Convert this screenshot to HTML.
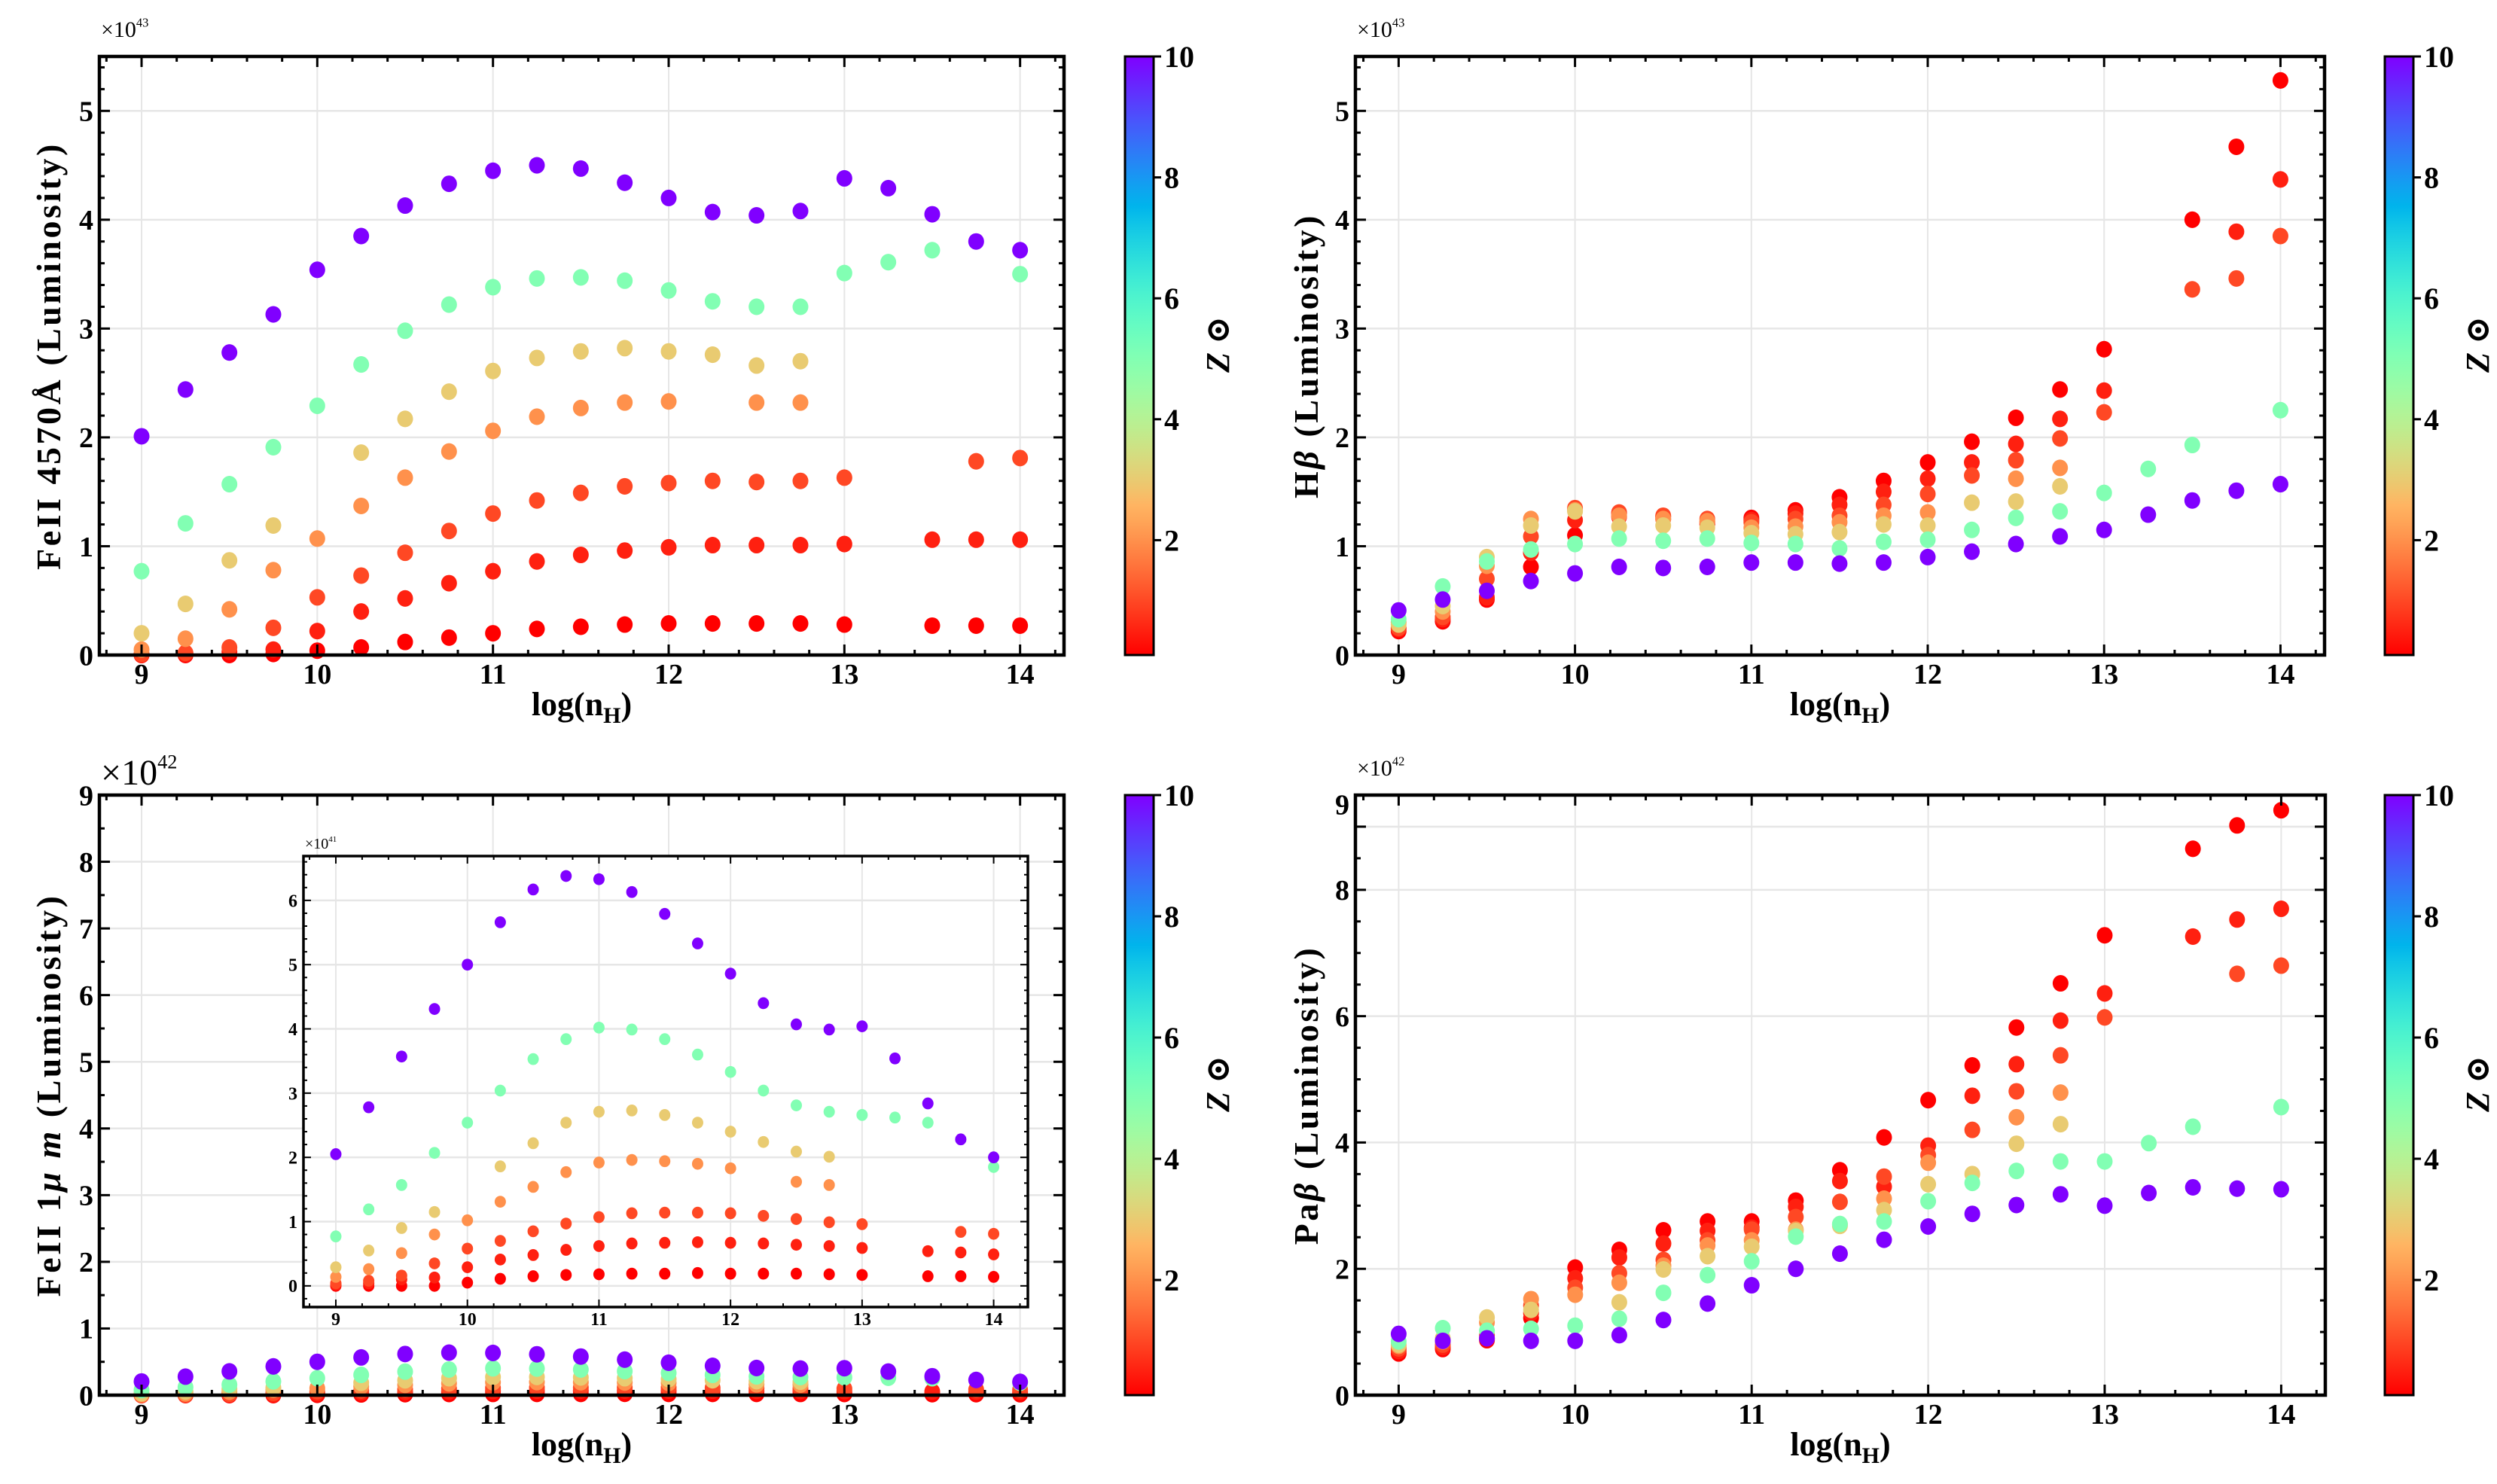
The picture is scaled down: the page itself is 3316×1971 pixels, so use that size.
<!DOCTYPE html>
<html><head><meta charset="utf-8"><style>
html,body{margin:0;padding:0;background:#fff;}
svg{display:block;font-family:"Liberation Serif","DejaVu Serif",serif;}
</style></head><body>
<svg id="fig" xmlns="http://www.w3.org/2000/svg" width="3316" height="1971" viewBox="0 0 3316 1971"></svg>
<script>
// x positions: log(n_H)
const nH = [9,9.25,9.5,9.75,10,10.25,10.5,10.75,11,11.25,11.5,11.75,12,12.25,12.5,12.75,13,13.25,13.5,13.75,14];
const zValues = [0.1,0.5,1,2,3,5,10];
// FeII 4570 (x1e43), order matches zValues
const fe4570_z01 = [0,0,0,0.01,0.04,0.07,0.12,0.16,0.20,0.24,0.26,0.28,0.29,0.29,0.29,0.29,0.28,null,0.27,0.27,0.27];
const fe4570_z05 = [0.0,0.01,0.03,0.05,0.22,0.40,0.52,0.66,0.77,0.86,0.92,0.96,0.99,1.01,1.01,1.01,1.02,null,1.06,1.06,1.06];
const fe4570_z1 = [0.01,0.02,0.07,0.25,0.53,0.73,0.94,1.14,1.30,1.42,1.49,1.55,1.58,1.60,1.59,1.60,1.63,null,null,1.78,1.81];
const fe4570_z2 = [0.05,0.15,0.42,0.78,1.07,1.37,1.63,1.87,2.06,2.19,2.27,2.32,2.33,null,2.32,2.32,null,null,null,null,null];
const fe4570_z3 = [0.20,0.47,0.87,1.19,null,1.86,2.17,2.42,2.61,2.73,2.79,2.82,2.79,2.76,2.66,2.70,null,null,null,null,null];
const fe4570_z5 = [0.77,1.21,1.57,1.91,2.29,2.67,2.98,3.22,3.38,3.46,3.47,3.44,3.35,3.25,3.20,3.20,3.51,3.61,3.72,null,3.50];
const fe4570_z10 = [2.01,2.44,2.78,3.13,3.54,3.85,4.13,4.33,4.45,4.50,4.47,4.34,4.20,4.07,4.04,4.08,4.38,4.29,4.05,3.80,3.72];
// Hbeta (x1e43)
const hb_z01 = [0.22,0.31,0.51,0.81,1.10,1.27,1.25,1.20,1.26,1.33,1.45,1.60,1.77,1.96,2.18,2.44,2.81,null,4.00,4.67,5.28];
const hb_z05 = [0.24,0.33,0.53,0.94,1.24,1.30,1.27,1.22,1.24,1.30,1.38,1.50,1.62,1.77,1.94,2.17,2.43,null,null,3.89,4.37];
const hb_z1 = [0.25,0.35,0.70,1.09,1.35,1.31,1.28,1.25,1.22,1.25,1.28,1.38,1.48,1.65,1.79,1.99,2.23,null,3.36,3.46,3.85];
const hb_z2 = [0.30,0.40,0.82,1.25,1.33,1.28,1.25,1.23,1.17,1.18,1.22,1.28,1.31,null,1.62,1.72,null,null,null,null,null];
const hb_z3 = [0.28,0.45,0.90,1.19,1.32,1.18,1.19,1.17,1.12,1.11,1.13,1.20,1.19,1.40,1.41,1.55,null,null,null,null,null];
const hb_z5 = [0.33,0.63,0.86,0.97,1.02,1.07,1.05,1.07,1.03,1.02,0.98,1.04,1.06,1.15,1.26,1.32,1.49,1.71,1.93,null,2.25];
const hb_z10 = [0.41,0.51,0.59,0.68,0.75,0.81,0.80,0.81,0.85,0.85,0.84,0.85,0.90,0.95,1.02,1.09,1.15,1.29,1.42,1.51,1.57];
// FeII 1um (x1e41, inset units)
const fe1um_z01 = [0,0,0,0,0.05,0.11,0.15,0.17,0.18,0.19,0.19,0.20,0.19,0.19,0.19,0.18,0.17,null,0.15,0.15,0.14];
const fe1um_z05 = [0.02,0.04,0.10,0.13,0.29,0.41,0.48,0.56,0.62,0.66,0.67,0.68,0.67,0.66,0.64,0.62,0.59,null,0.54,0.52,0.49];
const fe1um_z1 = [0.04,0.08,0.16,0.35,0.58,0.70,0.85,0.97,1.07,1.13,1.14,1.14,1.13,1.09,1.04,0.99,0.96,null,null,0.84,0.81];
const fe1um_z2 = [0.14,0.26,0.51,0.80,1.02,1.31,1.54,1.77,1.92,1.96,1.94,1.90,1.83,null,1.62,1.57,null,null,null,null,null];
const fe1um_z3 = [0.29,0.55,0.90,1.15,null,1.86,2.22,2.54,2.71,2.73,2.66,2.54,2.40,2.24,2.09,2.01,null,null,null,null,null];
const fe1um_z5 = [0.77,1.19,1.57,2.07,2.54,3.04,3.53,3.84,4.02,3.99,3.84,3.60,3.33,3.04,2.81,2.71,2.66,2.62,2.54,null,1.85];
const fe1um_z10 = [2.05,2.78,3.57,4.31,5.00,5.66,6.17,6.38,6.33,6.13,5.79,5.33,4.86,4.40,4.07,3.99,4.04,3.54,2.84,2.28,2.00];
// Pabeta (x1e42)
const pb_z01 = [0.66,0.73,0.87,1.22,2.02,2.30,2.61,2.75,2.75,3.08,3.56,4.08,4.67,5.22,5.82,6.52,7.28,null,8.65,9.02,9.26];
const pb_z05 = [0.70,0.76,0.90,1.30,1.85,2.18,2.40,2.60,2.65,2.98,3.39,3.30,3.95,4.74,5.24,5.93,6.36,null,7.26,7.53,7.70];
const pb_z1 = [0.74,0.80,0.95,1.42,1.70,1.93,2.14,2.45,2.62,2.82,3.06,3.46,3.80,4.20,4.81,5.38,5.98,null,null,6.67,6.80];
const pb_z2 = [0.78,0.85,1.15,1.52,1.59,1.78,2.05,2.37,2.45,2.62,2.70,3.11,3.68,null,4.40,4.79,null,null,null,null,null];
const pb_z3 = [0.80,0.90,1.23,1.35,null,1.47,1.99,2.20,2.35,2.60,2.68,2.93,3.34,3.50,3.98,4.29,null,null,null,null,null];
const pb_z5 = [0.85,1.06,1.02,1.05,1.10,1.21,1.62,1.90,2.12,2.51,2.71,2.75,3.07,3.36,3.55,3.70,3.70,3.99,4.25,null,4.56];
const pb_z10 = [0.97,0.86,0.90,0.86,0.86,0.95,1.19,1.45,1.74,2.00,2.24,2.46,2.67,2.87,3.01,3.18,3.00,3.20,3.29,3.27,3.26];
const xTicks = [9,10,11,12,13,14];
const cbTicks = [2,4,6,8,10];

const NS = "http://www.w3.org/2000/svg";
const svg = document.getElementById('fig');
function el(tag, attrs, parent){ const e=document.createElementNS(NS,tag); for(const k in attrs) e.setAttribute(k,attrs[k]); (parent||svg).appendChild(e); return e; }
function rainbowR(z){ let t=1-(z-0.1)/9.9; t=Math.max(0,Math.min(1,t));
  const r=Math.min(1,Math.abs(2*t-0.5)), g=Math.sin(Math.PI*t), b=Math.cos(Math.PI*t/2);
  return `rgb(${Math.round(r*255)},${Math.round(g*255)},${Math.round(b*255)})`; }

function axes(c){
  const g = el('g',{});
  
  
  const sx = v => c.L + (v - c.xlim[0])/(c.xlim[1]-c.xlim[0])*(c.R-c.L);
  const sy = v => c.B - (v - c.ylim[0])/(c.ylim[1]-c.ylim[0])*(c.B-c.T);
  el('rect',{x:c.L,y:c.T,width:c.R-c.L,height:c.B-c.T,fill:'#fff'},g);
  xTicks.forEach(v=>el('line',{x1:sx(v),x2:sx(v),y1:c.T,y2:c.B,stroke:'#e6e6e6','stroke-width':2},g));
  c.yticks.forEach(v=>{ if(v>c.ylim[0]&&v<c.ylim[1]) el('line',{x1:c.L,x2:c.R,y1:sy(v),y2:sy(v),stroke:'#e6e6e6','stroke-width':2.5},g);});
  c.series.forEach((arr,si)=>{
    const col = rainbowR(zValues[si]);
    arr.forEach((v,i)=>{ if(v===null) return;
      const p = el('ellipse',{cx:sx(nH[i]),cy:sy(v),rx:c.r,ry:c.r*1.05,fill:col},g);
      
      
    });
  });
  const tl=c.tick, tm=c.tick/2, sw=c.sw;
  for(let v=Math.ceil(c.xlim[0]*5)/5; v<=c.xlim[1]+1e-9; v+=0.2){
    const major = Math.abs(v-Math.round(v))<1e-6; const L= major?tl:tm; const x=sx(v);
    el('line',{x1:x,x2:x,y1:c.B,y2:c.B-L,stroke:'#000','stroke-width':sw},g);
    el('line',{x1:x,x2:x,y1:c.T,y2:c.T+L,stroke:'#000','stroke-width':sw},g);
  }
  for(let v=Math.ceil(c.ylim[0]/c.ymin)*c.ymin; v<=c.ylim[1]+1e-9; v+=c.ymin){
    const major = c.yticks.some(t=>Math.abs(t-v)<1e-6); const L= major?tl:tm; const y=sy(v);
    el('line',{x1:c.L,x2:c.L+L,y1:y,y2:y,stroke:'#000','stroke-width':sw},g);
    el('line',{x1:c.R,x2:c.R-L,y1:y,y2:y,stroke:'#000','stroke-width':sw},g);
  }
  el('rect',{x:c.L,y:c.T,width:c.R-c.L,height:c.B-c.T,fill:'none',stroke:'#000','stroke-width':c.frame},g);
  xTicks.forEach(v=>{ const t=el('text',{x:sx(v),y:c.B+c.fs*1.0,'font-size':c.fs,'font-weight':'bold','text-anchor':'middle'},g); t.textContent=v;
      });
  c.yticks.forEach(v=>{ const yy = (c.fakeTop && v===c.fakeTop) ? c.T+12 : sy(v);
    const t=el('text',{x:c.L-8,y:yy+c.fs*0.35,'font-size':c.fs,'font-weight':'bold','text-anchor':'end'},g); t.textContent=v;
      });
  const ex=el('text',{x:c.L+2,y:c.T-c.expGap,'font-size':c.expFs},g);
   
  ex.innerHTML = '×10<tspan dy="'+(-c.expFs*0.45)+'" font-size="'+(c.expFs*0.55)+'">'+c.exp+'</tspan>';
  return g;
}
function panelLabels(c){
  if(c.ylabel){ const t=el('text',{x:0,y:0,'font-size':46,'font-weight':'bold','letter-spacing':3.5,'text-anchor':'middle',transform:`translate(${c.ylx},${(c.T+c.B)/2}) rotate(-90)`}); t.innerHTML=c.ylabel;
      }
  const xl=el('text',{x:(c.L+c.R)/2,y:c.B+80,'font-size':44,'font-weight':'bold','text-anchor':'middle'});
  xl.innerHTML='log(n<tspan dy="10" font-size="30">H</tspan><tspan dy="-10">)</tspan>';
   
  const cg=el('g',{});  
  const gid='grad'+Math.round(c.cbx);
  const lg=el('linearGradient',{id:gid,x1:0,y1:1,x2:0,y2:0},el('defs',{},cg));
  for(let i=0;i<=40;i++){ const z=0.1+9.9*i/40; el('stop',{offset:(i/40),'stop-color':rainbowR(z)},lg); }
  el('rect',{x:c.cbx,y:c.T,width:38,height:c.B-c.T,fill:`url(#${gid})`,stroke:'#000','stroke-width':3},cg);
  cbTicks.forEach(v=>{ const y=c.B-(v-0.1)/9.9*(c.B-c.T);
    el('line',{x1:c.cbx+38,x2:c.cbx+48,y1:y,y2:y,stroke:'#000','stroke-width':3},cg);
    const t=el('text',{x:c.cbx+52,y:y+14,'font-size':40,'font-weight':'bold'},cg); t.textContent=v; });
  const zl=el('text',{x:0,y:0,'font-size':44,'font-weight':'bold','font-style':'italic','text-anchor':'middle',transform:`translate(${c.cbx+138},${(c.T+c.B)/2-15}) rotate(-90)`},cg);
  zl.textContent='Z ⊙';
}

const common={xlim:[8.76,14.25],tick:14,sw:3,frame:4.5,fs:38,r:10.5};
const P1=Object.assign({},common,{name:'feii-4570-panel',L:132,R:1413,T:75,B:870,ylim:[0,5.5],yticks:[0,1,2,3,4,5],ymin:0.2,exp:'43',expFs:30,expGap:26,
  series:[fe4570_z01,fe4570_z05,fe4570_z1,fe4570_z2,fe4570_z3,fe4570_z5,fe4570_z10],ylabel:'FeII 4570Å (Luminosity)',ylx:80,cbx:1494});
const P2=Object.assign({},common,{name:'hbeta-panel',L:1800,R:3087,T:75,B:870,xlim:[8.755,14.25],ylim:[0,5.5],yticks:[0,1,2,3,4,5],ymin:0.2,exp:'43',expFs:30,expGap:26,
  series:[hb_z01,hb_z05,hb_z1,hb_z2,hb_z3,hb_z5,hb_z10],ylabel:'H<tspan font-style="italic">β</tspan> (Luminosity)',ylx:1750,cbx:3167});
const fe1umMain=[fe1um_z01,fe1um_z05,fe1um_z1,fe1um_z2,fe1um_z3,fe1um_z5,fe1um_z10].map(a=>a.map(v=>v===null?null:v/10)); // 1e41 -> 1e42 units
const P3=Object.assign({},common,{name:'feii-1um-panel',L:132,R:1413,T:1056,B:1853,ylim:[0,9],yticks:[0,1,2,3,4,5,6,7,8,9],ymin:0.5,exp:'42',expFs:48,expGap:14,
  series:fe1umMain,ylabel:'FeII 1<tspan font-style="italic">μ m</tspan> (Luminosity)',ylx:80,cbx:1494});
const P4=Object.assign({},common,{name:'inset-feii-1um',L:403,R:1365,T:1137,B:1736,xlim:[8.754,14.26],ylim:[-0.33,6.69],yticks:[0,1,2,3,4,5,6],ymin:0.2,exp:'41',expFs:20,expGap:10,
  series:[fe1um_z01,fe1um_z05,fe1um_z1,fe1um_z2,fe1um_z3,fe1um_z5,fe1um_z10],r:7.5,fs:24,tick:10,sw:2,frame:3.5});
const P5=Object.assign({},common,{name:'pabeta-panel',L:1800,R:3088,T:1056,B:1853,xlim:[8.755,14.25],ylim:[0,9.5],yticks:[0,2,4,6,8,9],ymin:0.5,fakeTop:9,exp:'42',expFs:30,expGap:26,
  series:[pb_z01,pb_z05,pb_z1,pb_z2,pb_z3,pb_z5,pb_z10],ylabel:'Pa<tspan font-style="italic">β</tspan> (Luminosity)',ylx:1750,cbx:3167});

[P1,P2,P3,P5].forEach(p=>{axes(p);panelLabels(p);});
axes(P4);
</script>
</body></html>
